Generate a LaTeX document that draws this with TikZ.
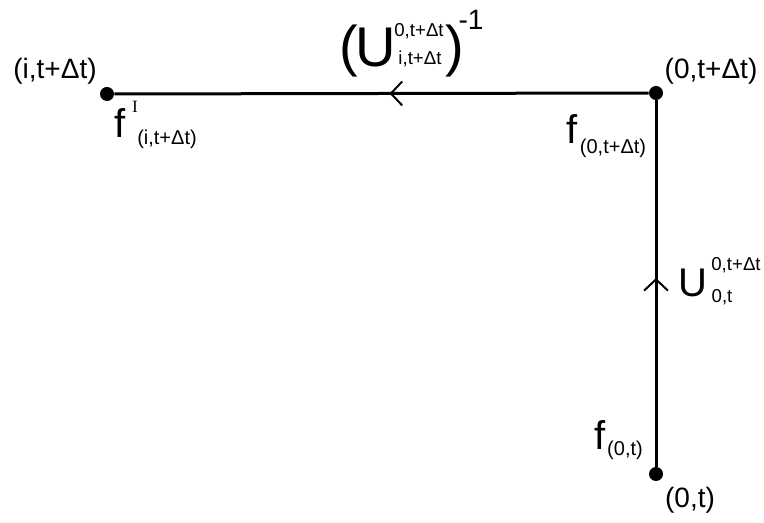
\documentclass[tikz,border=0pt]{standalone}
\usepackage{fontspec}
\setmainfont{Liberation Sans}
\newfontfamily\serifI{Liberation Serif}
\usetikzlibrary{arrows.meta,decorations.markings}

\tikzset{
  dot/.style={circle, fill=black, inner sep=0pt, minimum size=10.5pt},
  edge/.style={line width=2.25pt},
  ptlabel/.style={inner sep=0pt, font=\fontsize{21}{21}\selectfont},
  sym/.style={inner sep=0pt, font=\fontsize{30}{30}\selectfont},
  bigsym/.style={inner sep=0pt, font=\fontsize{42}{42}\selectfont},
  idx/.style={inner sep=0pt, font=\fontsize{14}{14}\selectfont},
  fidx/.style={inner sep=0pt, font=\fontsize{15}{15}\selectfont},
  chevron/.style={postaction={decorate}, decoration={markings,
    mark=at position #1 with {\arrow{Straight Barb[length=8.5pt, width=18pt, line width=1.5pt]}}}}
}

\begin{document}
\begin{tikzpicture}[x=0.75pt, y=-0.75pt]
    \useasboundingbox (0, 0) rectangle (764, 523);

    % Points
    \node[dot] (ptI) at (107, 94) {};
    \node[dot] (ptT) at (656, 93) {};
    \node[dot] (ptO) at (656, 474) {};

    % Paths
    \draw[edge, chevron=0.515] (ptO) -- (ptT);
    \draw[edge, chevron=0.485] (ptT) -- (ptI);

    % Point labels
    \node[ptlabel] (lblI) at (55, 71) {(i,t+Δt)};
    \node[ptlabel] (lblT) at (711, 71) {(0,t+Δt)};
    \node[ptlabel] (lblO) at (690, 500) {(0,t)};

    % Fields
    \node[sym] (fI) at (120, 123) {f};
    \node[inner sep=0pt, font=\serifI\fontsize{13}{13}\selectfont] (fIsup) at (135, 107) {I};
    \node[fidx] (fIsub) at (167, 139) {(i,t+Δt)};

    \node[sym] (fT) at (572, 129) {f};
    \node[fidx] (fTsub) at (613, 148) {(0,t+Δt)};

    \node[sym] (fO) at (600, 435) {f};
    \node[fidx] (fOsub) at (625, 450) {(0,t)};

    % Transport along the vertical path
    \node[sym] (Uv) at (693, 283) {U};
    \node[idx] (Uvsup) at (736, 265) {0,t+Δt};
    \node[idx] (Uvsub) at (722, 297) {0,t};

    % Inverse transport along the horizontal path
    \node[bigsym] (lpar) at (349, 51) {(};
    \node[bigsym] (Uh) at (376, 48) {U};
    \node[idx] (Uhsup) at (419, 31) {0,t+Δt};
    \node[idx] (Uhsub) at (420, 59) {i,t+Δt};
    \node[bigsym] (rpar) at (455, 51) {)};
    \node[ptlabel] (inv) at (471, 20) {-1};
\end{tikzpicture}
\end{document}
